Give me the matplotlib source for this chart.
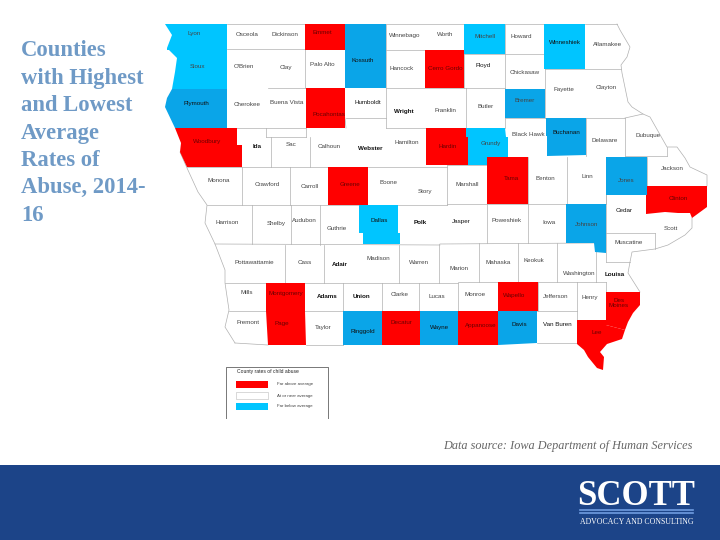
import matplotlib
matplotlib.use("Agg")
import matplotlib.pyplot as plt
from matplotlib.patches import Polygon, Rectangle


def box(x0, y0, x1, y1):
    return [(x0, y0), (x1, y0), (x1, y1), (x0, y1)]


# colours
RED = "#ff0000"
LIGHT_BLUE = "#00c5ff"
DARK_BLUE = "#0aa5e8"
LINE = "#b0b0b0"
NAVY = "#1c4488"

title = "Counties\nwith Highest\nand Lowest\nAverage\nRates of\nAbuse, 2014-\n16"
source = "Data source: Iowa Department of Human Services"

# county classes, everything else is near average (white)
high_counties = ["Emmet", "Cerro Gordo", "Pocahontas", "Woodbury", "Hardin", "Greene",
                 "Tama", "Clinton", "Montgomery", "Page", "Decatur", "Wapello",
                 "Appanoose", "Des Moines", "Lee"]
low_light = ["Lyon", "Sioux", "Mitchell", "Winneshiek", "Grundy", "Dallas"]
low_dark = ["Plymouth", "Kossuth", "Bremer", "Buchanan", "Jones", "Johnson",
            "Ringgold", "Wayne", "Davis"]

# labels that look heavier in the picture
heavy_labels = ["Wright", "Webster", "Polk", "Adair", "Ida", "Louisa", "Adams", "Union",
                "Floyd", "Humboldt", "Plymouth", "Buchanan", "Kossuth", "Winneshiek",
                "Ringgold", "Wayne", "Davis", "Van Buren", "Jasper", "Dallas", "Cedar"]

# coloured county outlines, in picture pixels
county_shapes = {
    "Emmet": box(305, 24, 345, 50),
    "Cerro Gordo": box(425, 50, 464, 88),
    "Pocahontas": box(306, 88, 345, 128),
    "Woodbury": [(175, 128), (237, 128), (237, 145), (242, 145), (242, 167), (187, 167),
                 (180, 152), (181, 143)],
    "Hardin": box(426, 128, 468, 165),
    "Greene": box(328, 167, 368, 205),
    "Tama": box(487, 157, 528, 204),
    "Clinton": [(646, 186), (707, 186), (707, 207), (692, 218), (690, 213), (678, 213),
                (665, 212), (646, 214)],
    "Montgomery": box(266, 283, 305, 311),
    "Page": [(266, 311), (305, 311), (306, 345), (268, 345)],
    "Decatur": box(382, 311, 420, 345),
    "Wapello": box(498, 282, 538, 311),
    "Appanoose": box(458, 311, 498, 345),
    "Des Moines": [(606, 292), (640, 292), (640, 305), (633, 313), (628, 322), (625, 330),
                   (606, 325)],
    "Lee": [(577, 320), (606, 320), (606, 325), (625, 330), (622, 339), (607, 344),
            (600, 352), (604, 357), (603, 370), (597, 368), (588, 357), (584, 350), (577, 344)],
    "Lyon": [(165, 24), (227, 24), (227, 50), (167, 50), (167, 48), (172, 35)],
    "Sioux": [(167, 48), (227, 48), (227, 89), (172, 89), (175, 72), (177, 58)],
    "Mitchell": box(464, 24, 505, 54),
    "Winneshiek": box(544, 24, 585, 69),
    "Grundy": [(466, 128), (505, 128), (506, 137), (508, 137), (508, 157), (487, 157),
               (487, 165), (468, 165), (468, 137), (466, 137)],
    "Dallas": [(359, 205), (398, 205), (398, 233), (400, 233), (400, 244), (363, 244),
               (363, 233), (359, 233)],
    "Plymouth": [(172, 89), (227, 89), (227, 128), (175, 128), (165, 107), (167, 98)],
    "Kossuth": box(345, 24, 386, 88),
    "Bremer": box(505, 89, 545, 118),
    "Buchanan": [(546, 118), (586, 118), (586, 155), (547, 156), (547, 136), (546, 136)],
    "Jones": box(606, 157, 647, 195),
    "Johnson": [(566, 204), (606, 204), (606, 253), (595, 252), (594, 243), (566, 243)],
    "Ringgold": box(343, 311, 382, 345),
    "Wayne": box(420, 311, 458, 345),
    "Davis": [(498, 311), (537, 311), (537, 343), (498, 345)],
}

# county name positions, in picture pixels
label_names = ["Lyon", "Osceola", "Dickinson", "Emmet", "Sioux", "O'Brien", "Clay", "Palo Alto",
               "Kossuth", "Winnebago", "Hancock", "Cerro Gordo", "Worth", "Mitchell", "Howard",
               "Winneshiek", "Allamakee", "Floyd", "Chickasaw", "Fayette", "Clayton", "Butler",
               "Franklin", "Bremer", "Black Hawk", "Buchanan", "Delaware", "Dubuque", "Grundy",
               "Hardin", "Tama", "Benton", "Linn", "Jones", "Jackson", "Clinton", "Marshall",
               "Story", "Boone", "Greene", "Carroll", "Crawford", "Monona", "Woodbury", "Ida",
               "Sac", "Calhoun", "Webster", "Hamilton", "Plymouth", "Cherokee", "Buena Vista",
               "Pocahontas", "Humboldt", "Wright", "Harrison", "Shelby", "Audubon", "Guthrie",
               "Dallas", "Polk", "Pottawattamie", "Cass", "Adair", "Madison", "Warren", "Mills",
               "Montgomery", "Adams", "Union", "Clarke", "Lucas", "Fremont", "Page", "Taylor",
               "Ringgold", "Decatur", "Wayne", "Jasper", "Poweshiek", "Iowa", "Johnson", "Cedar",
               "Scott", "Muscatine", "Marion", "Mahaska", "Keokuk", "Washington", "Louisa",
               "Monroe", "Wapello", "Jefferson", "Henry", "Des\nMoines", "Lee", "Appanoose",
               "Davis", "Van Buren"]
label_x = [194, 247, 285, 322, 197, 244, 286, 322, 363, 405, 402, 445, 445, 485, 521, 565, 608,
           483, 525, 564, 606, 486, 445, 525, 528, 566, 605, 648, 491, 448, 511, 545, 587, 626,
           672, 678, 467, 425, 389, 350, 310, 267, 219, 207, 257, 291, 329, 370, 407, 196, 247,
           287, 329, 368, 404, 227, 276, 304, 337, 379, 420, 254, 305, 340, 378, 419, 247, 286,
           327, 361, 400, 437, 248, 282, 323, 363, 401, 440, 461, 507, 549, 587, 624, 671, 629,
           459, 498, 534, 579, 615, 475, 514, 556, 590, 619, 597, 481, 519, 557]
label_y = [34, 34, 34, 33, 66, 67, 68, 64, 61, 36, 68, 68, 34, 37, 36, 43, 44, 66, 72, 89, 87, 107,
           110, 100, 134, 133, 140, 135, 144, 147, 178, 178, 177, 180, 168, 198, 184, 192, 183,
           184, 186, 185, 181, 142, 146, 144, 146, 148, 143, 103, 104, 103, 114, 103, 111, 223,
           224, 220, 229, 221, 223, 263, 262, 264, 259, 263, 292, 294, 296, 297, 295, 297, 323,
           323, 327, 331, 323, 327, 221, 220, 223, 225, 211, 228, 243, 268, 262, 261, 273, 274,
           294, 295, 297, 298, 303, 333, 326, 324, 325]

# state outline along the rivers
west_river_x = [180, 187, 198, 207, 205, 215, 225, 225, 229, 225, 235]
west_river_y = [152, 168, 192, 205, 223, 244, 270, 283, 310, 327, 343]
east_river_x = [617, 620, 630, 627, 621, 622, 628, 632, 643, 650, 667, 677, 685, 690, 707, 707]
east_river_y = [24, 30, 47, 57, 65, 73, 102, 107, 114, 117, 147, 147, 158, 167, 175, 186]
south_river_x = [692, 692, 685, 668, 655, 632, 630, 628, 640]
south_river_y = [218, 228, 235, 245, 249, 252, 262, 273, 292]

# county lines that show up in the picture
border_lines = [
    (227, 24, 345, 24), (386, 24, 464, 24), (505, 24, 544, 24), (585, 24, 617, 24),
    (227, 49, 305, 49), (305, 24, 305, 88), (386, 24, 386, 128), (386, 50, 425, 50),
    (386, 88, 466, 88), (268, 88, 306, 88), (227, 128, 306, 128), (266, 128, 266, 137),
    (266, 137, 306, 137), (306, 128, 306, 137), (271, 137, 271, 167), (310, 137, 310, 167),
    (345, 118, 346, 128), (346, 118, 386, 118), (386, 128, 426, 128), (242, 167, 242, 205),
    (290, 167, 290, 205), (187, 167, 330, 167), (368, 167, 447, 167), (207, 205, 447, 205),
    (252, 205, 252, 244), (291, 205, 291, 244), (320, 205, 320, 245), (215, 244, 440, 245),
    (285, 245, 285, 283), (324, 245, 324, 283), (399, 245, 399, 283), (439, 244, 439, 283),
    (225, 283, 458, 283), (343, 283, 343, 345), (382, 283, 382, 311), (419, 283, 419, 311),
    (458, 283, 458, 311), (229, 311, 420, 311), (235, 343, 268, 345), (306, 345, 343, 345),
    (447, 165, 447, 205), (447, 204, 606, 204), (440, 244, 596, 243), (487, 204, 487, 243),
    (528, 204, 528, 243), (479, 243, 479, 282), (518, 243, 518, 282), (557, 243, 557, 282),
    (458, 282, 596, 282), (498, 282, 498, 311), (538, 282, 538, 311), (577, 282, 577, 343),
    (458, 311, 577, 311), (537, 343, 577, 343), (596, 243, 596, 282), (606, 195, 606, 262),
    (606, 233, 655, 233), (655, 233, 655, 249), (606, 262, 630, 262), (606, 282, 606, 320),
    (596, 282, 606, 282), (464, 54, 544, 54), (464, 24, 464, 88), (505, 24, 505, 128),
    (545, 54, 545, 118), (466, 88, 505, 88), (466, 88, 466, 128), (505, 118, 625, 118),
    (545, 69, 621, 69), (625, 118, 625, 156), (586, 118, 586, 156), (625, 156, 667, 156),
    (667, 147, 667, 156), (647, 157, 647, 186), (528, 157, 528, 204), (567, 157, 567, 204),
    (606, 157, 606, 204), (447, 165, 487, 165), (625, 118, 643, 114),
]

legend_title = "County rates of child abuse"
legend_labels = ["Far above average", "At or near average", "Far below average"]
legend_colors = [RED, "white", LIGHT_BLUE]

plt.rcParams["font.family"] = ["Liberation Sans", "DejaVu Sans"]

fig = plt.figure(figsize=(7.2, 5.4), dpi=100, facecolor="white")
ax = fig.add_axes([0, 0, 1, 1])
ax.set_xlim(0, 720)
ax.set_ylim(540, 0)
ax.axis("off")

# county lines first, the coloured counties sit on top of them
for x0, y0, x1, y1 in border_lines:
    ax.plot([x0, x1], [y0, y1], color=LINE, lw=0.5, zorder=1)
ax.plot(west_river_x, west_river_y, color=LINE, lw=0.5, zorder=1)
ax.plot(east_river_x, east_river_y, color=LINE, lw=0.5, zorder=1)
ax.plot(south_river_x, south_river_y, color=LINE, lw=0.5, zorder=1)

for name, shape in county_shapes.items():
    if name in high_counties:
        col = RED
    elif name in low_light:
        col = LIGHT_BLUE
    else:
        col = DARK_BLUE
    ax.add_patch(Polygon(shape, closed=True, facecolor=col, edgecolor="none", zorder=2))

for name, x, y in zip(label_names, label_x, label_y):
    key = name.replace("\n", " ")
    col = "#111111" if key in heavy_labels else "#444444"
    if key in high_counties:
        col = "#6a0000"
    ax.text(x, y, name, ha="center", va="center", fontsize=4.5, color=col, zorder=3,
            linespacing=1.1, fontweight="bold" if key in heavy_labels[:8] else "normal")

# legend box, open at the bottom
ax.plot([226, 226, 328, 328], [418, 367, 367, 418], color="#777777", lw=0.7)
ax.text(237, 372, legend_title, fontsize=3.6, color="#222222", va="center")
for i in range(3):
    ytop = 381 + 11 * i
    ax.add_patch(Rectangle((236, ytop), 32, 7, facecolor=legend_colors[i],
                           edgecolor="#bbbbbb" if i == 1 else "none", lw=0.4))
    ax.text(277, ytop + 3.5, legend_labels[i], fontsize=3.2, color="#444444", va="center")

ax.text(21, 133, title, family="Liberation Serif", fontweight="bold", fontsize=16.3,
        color="#6f9ac6", va="center", ha="left", linespacing=1.40)
ax.text(443, 446, source, family="Liberation Serif", style="italic", fontsize=8.85,
        color="#666666", va="center", ha="left")

# footer band with the logo
ax.add_patch(Rectangle((0, 465), 720, 75, facecolor=NAVY, edgecolor="none"))
ax.text(636.5, 505, "SCOTT", family="Liberation Serif", fontweight="bold", fontsize=25,
        color="white", ha="center", va="baseline")
ax.plot([580, 693], [510, 510], color="#6f9ce0", lw=1.2)
ax.plot([580, 693], [513, 513], color="#6f9ce0", lw=1.2)
ax.text(636.5, 522, "ADVOCACY AND CONSULTING", family="Liberation Serif", fontsize=5.6,
        color="white", ha="center", va="center")

fig.savefig("out.png", dpi=100)
